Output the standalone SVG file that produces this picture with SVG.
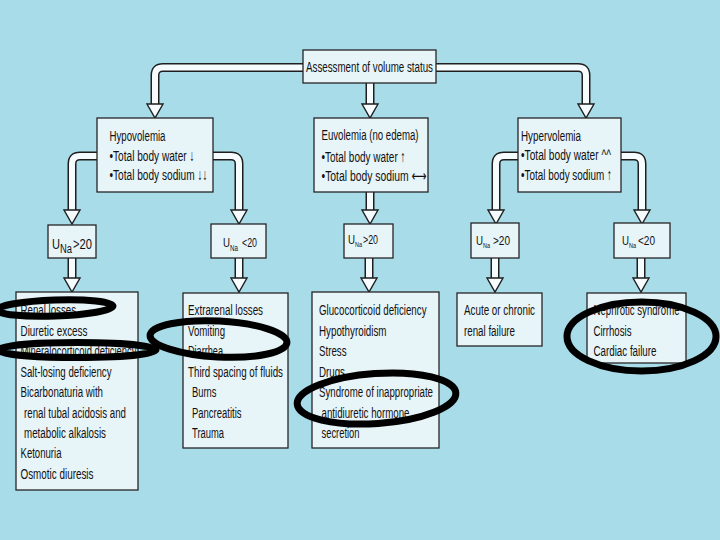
<svg xmlns="http://www.w3.org/2000/svg" xmlns:xlink="http://www.w3.org/1999/xlink" width="720" height="540" viewBox="0 0 720 540">
<style>
.bg{fill:#a8dce9}
.box{fill:#e7f4f8;stroke:#262626;stroke-width:1.3}
.t{font-family:"Liberation Sans","DejaVu Sans",sans-serif;font-size:15.5px;fill:#111}
.s{font-family:"Liberation Sans","DejaVu Sans",sans-serif;fill:#111}
.sh-o{fill:none;stroke:#1e1e1e;stroke-width:9}
.sh-i{fill:none;stroke:#f6fbfd;stroke-width:6}
.hd{fill:#f6fbfd;stroke:#1e1e1e;stroke-width:1.4;stroke-linejoin:miter}
.ov{fill:none;stroke:#000;stroke-width:7}
</style>
<defs>
<path id="head" d="M-8,0 L8,0 L0,14 Z"/>
</defs>
<rect class="bg" x="0" y="0" width="720" height="540"/>

<g id="connectors">
  <g>
    <path class="sh-o" d="M303,67.5 H163 Q155,67.5 155,75.5 V105"/>
    <path class="sh-o" d="M370,83 V105"/>
    <path class="sh-o" d="M436,67.5 H578 Q586,67.5 586,75.5 V105"/>
    <path class="sh-o" d="M97,156 H80 Q72,156 72,164 V211"/>
    <path class="sh-o" d="M213,156 H231 Q239,156 239,164 V211"/>
    <path class="sh-o" d="M370,192 V211"/>
    <path class="sh-o" d="M518,156 H504 Q496,156 496,164 V211"/>
    <path class="sh-o" d="M621,156 H634 Q642,156 642,164 V211"/>
    <path class="sh-o" d="M72,258 V279"/>
    <path class="sh-o" d="M239,258 V279"/>
    <path class="sh-o" d="M369,258 V279"/>
    <path class="sh-o" d="M495,258 V279"/>
    <path class="sh-o" d="M641,258 V279"/>
  </g>
  <g>
    <path class="sh-i" d="M303,67.5 H163 Q155,67.5 155,75.5 V105"/>
    <path class="sh-i" d="M370,83 V105"/>
    <path class="sh-i" d="M436,67.5 H578 Q586,67.5 586,75.5 V105"/>
    <path class="sh-i" d="M97,156 H80 Q72,156 72,164 V211"/>
    <path class="sh-i" d="M213,156 H231 Q239,156 239,164 V211"/>
    <path class="sh-i" d="M370,192 V211"/>
    <path class="sh-i" d="M518,156 H504 Q496,156 496,164 V211"/>
    <path class="sh-i" d="M621,156 H634 Q642,156 642,164 V211"/>
    <path class="sh-i" d="M72,258 V279"/>
    <path class="sh-i" d="M239,258 V279"/>
    <path class="sh-i" d="M369,258 V279"/>
    <path class="sh-i" d="M495,258 V279"/>
    <path class="sh-i" d="M641,258 V279"/>
  </g>
  <g>
    <use class="hd" xlink:href="#head" x="155" y="104"/>
    <use class="hd" xlink:href="#head" x="370" y="104"/>
    <use class="hd" xlink:href="#head" x="586" y="104"/>
    <use class="hd" xlink:href="#head" x="72" y="210"/>
    <use class="hd" xlink:href="#head" x="239" y="210"/>
    <use class="hd" xlink:href="#head" x="370" y="210"/>
    <use class="hd" xlink:href="#head" x="496" y="210"/>
    <use class="hd" xlink:href="#head" x="642" y="210"/>
    <use class="hd" xlink:href="#head" x="72" y="278"/>
    <use class="hd" xlink:href="#head" x="239" y="278"/>
    <use class="hd" xlink:href="#head" x="369" y="278"/>
    <use class="hd" xlink:href="#head" x="495" y="278"/>
    <use class="hd" xlink:href="#head" x="641" y="278"/>
  </g>
</g>

<g id="assessment">
  <rect class="box" x="303" y="50" width="133" height="33"/>
  <text class="t" x="306" y="72" textLength="127" lengthAdjust="spacingAndGlyphs">Assessment of volume status</text>
</g>

<g id="hypovolemia">
  <rect class="box" x="97" y="118" width="116" height="74"/>
  <text class="t" x="109.5" y="141" textLength="56" lengthAdjust="spacingAndGlyphs">Hypovolemia</text>
  <text class="t" x="109.5" y="161" textLength="85" lengthAdjust="spacingAndGlyphs">•Total body water ↓</text>
  <text class="t" x="109.5" y="180" textLength="98" lengthAdjust="spacingAndGlyphs">•Total body sodium ↓↓</text>
</g>

<g id="euvolemia">
  <rect class="box" x="314" y="118" width="114" height="74"/>
  <text class="t" x="321.5" y="140" textLength="97" lengthAdjust="spacingAndGlyphs">Euvolemia (no edema)</text>
  <text class="t" x="321.5" y="162" textLength="84" lengthAdjust="spacingAndGlyphs">•Total body water ↑</text>
  <text class="t" x="321.5" y="181" textLength="105" lengthAdjust="spacingAndGlyphs">•Total body sodium ⟷</text>
</g>

<g id="hypervolemia">
  <rect class="box" x="518" y="118" width="103" height="74"/>
  <text class="t" x="521" y="141" textLength="60" lengthAdjust="spacingAndGlyphs">Hypervolemia</text>
  <text class="t" x="521" y="160" textLength="90" lengthAdjust="spacingAndGlyphs">•Total body water ^^</text>
  <text class="t" x="521" y="180" textLength="91" lengthAdjust="spacingAndGlyphs">•Total body sodium ↑</text>
</g>

<g id="una-hypo-high">
  <rect class="box" x="48" y="225" width="48" height="33"/>
  <text class="s" x="52" y="249" font-size="15" textLength="8" lengthAdjust="spacingAndGlyphs">U</text>
  <text class="s" x="60" y="252.5" font-size="12" textLength="12" lengthAdjust="spacingAndGlyphs">Na</text>
  <text class="s" x="73" y="249" font-size="15" textLength="19" lengthAdjust="spacingAndGlyphs">&gt;20</text>
</g>

<g id="una-hypo-low">
  <rect class="box" x="211" y="224" width="55" height="34"/>
  <text class="s" x="223" y="247" font-size="12" textLength="7" lengthAdjust="spacingAndGlyphs">U</text>
  <text class="s" x="230" y="250.5" font-size="9" textLength="8" lengthAdjust="spacingAndGlyphs">Na</text>
  <text class="s" x="242" y="247" font-size="12" textLength="15" lengthAdjust="spacingAndGlyphs">&lt;20</text>
</g>

<g id="una-euvo">
  <rect class="box" x="344" y="224" width="49" height="34"/>
  <text class="s" x="348" y="244" font-size="12" textLength="7" lengthAdjust="spacingAndGlyphs">U</text>
  <text class="s" x="355" y="247" font-size="8" textLength="7" lengthAdjust="spacingAndGlyphs">Na</text>
  <text class="s" x="363" y="244" font-size="12" textLength="15" lengthAdjust="spacingAndGlyphs">&gt;20</text>
</g>

<g id="una-hyper-high">
  <rect class="box" x="471" y="223" width="48" height="35"/>
  <text class="s" x="476" y="245" font-size="12" textLength="7" lengthAdjust="spacingAndGlyphs">U</text>
  <text class="s" x="483" y="247.5" font-size="8" textLength="7" lengthAdjust="spacingAndGlyphs">Na</text>
  <text class="s" x="493" y="245" font-size="12" textLength="17" lengthAdjust="spacingAndGlyphs">&gt;20</text>
</g>

<g id="una-hyper-low">
  <rect class="box" x="614" y="223" width="56" height="35"/>
  <text class="s" x="622" y="245" font-size="12" textLength="7" lengthAdjust="spacingAndGlyphs">U</text>
  <text class="s" x="629" y="247.5" font-size="8" textLength="7" lengthAdjust="spacingAndGlyphs">Na</text>
  <text class="s" x="638" y="245" font-size="12" textLength="17" lengthAdjust="spacingAndGlyphs">&lt;20</text>
</g>

<g id="renal-causes">
  <rect class="box" x="16" y="292" width="122" height="198"/>
  <text class="t" x="20.5" y="315" textLength="55.5" lengthAdjust="spacingAndGlyphs">Renal losses</text>
  <text class="t" x="20.5" y="335.5" textLength="67" lengthAdjust="spacingAndGlyphs">Diuretic excess</text>
  <text class="t" x="20.5" y="356" textLength="116" lengthAdjust="spacingAndGlyphs">Mineralocorticoid deficiency</text>
  <text class="t" x="20.5" y="376.5" textLength="91" lengthAdjust="spacingAndGlyphs">Salt-losing deficiency</text>
  <text class="t" x="20.5" y="397" textLength="82.5" lengthAdjust="spacingAndGlyphs">Bicarbonaturia with</text>
  <text class="t" x="24" y="417.5" textLength="102" lengthAdjust="spacingAndGlyphs">renal tubal acidosis and</text>
  <text class="t" x="24" y="438" textLength="82" lengthAdjust="spacingAndGlyphs">metabolic alkalosis</text>
  <text class="t" x="20.5" y="458" textLength="41" lengthAdjust="spacingAndGlyphs">Ketonuria</text>
  <text class="t" x="20.5" y="478.5" textLength="73" lengthAdjust="spacingAndGlyphs">Osmotic diuresis</text>
</g>

<g id="extrarenal-causes">
  <rect class="box" x="183" y="293" width="105" height="155"/>
  <text class="t" x="188" y="315" textLength="75" lengthAdjust="spacingAndGlyphs">Extrarenal losses</text>
  <text class="t" x="188" y="335.5" textLength="37" lengthAdjust="spacingAndGlyphs">Vomiting</text>
  <text class="t" x="188" y="356" textLength="35" lengthAdjust="spacingAndGlyphs">Diarrhea</text>
  <text class="t" x="188" y="376.5" textLength="95" lengthAdjust="spacingAndGlyphs">Third spacing of fluids</text>
  <text class="t" x="192" y="397" textLength="24.5" lengthAdjust="spacingAndGlyphs">Burns</text>
  <text class="t" x="192" y="417.5" textLength="49.5" lengthAdjust="spacingAndGlyphs">Pancreatitis</text>
  <text class="t" x="192" y="438" textLength="32" lengthAdjust="spacingAndGlyphs">Trauma</text>
</g>

<g id="euvolemic-causes">
  <rect class="box" x="312" y="292" width="127" height="156"/>
  <text class="t" x="319" y="315" textLength="107.5" lengthAdjust="spacingAndGlyphs">Glucocorticoid deficiency</text>
  <text class="t" x="319" y="335.5" textLength="67.5" lengthAdjust="spacingAndGlyphs">Hypothyroidism</text>
  <text class="t" x="319" y="356" textLength="27.5" lengthAdjust="spacingAndGlyphs">Stress</text>
  <text class="t" x="319" y="376.5" textLength="26" lengthAdjust="spacingAndGlyphs">Drugs</text>
  <text class="t" x="319" y="397" textLength="114" lengthAdjust="spacingAndGlyphs">Syndrome of inappropriate</text>
  <text class="t" x="321.5" y="417.5" textLength="88" lengthAdjust="spacingAndGlyphs">antidiuretic hormone</text>
  <text class="t" x="321.5" y="438" textLength="38" lengthAdjust="spacingAndGlyphs">secretion</text>
</g>

<g id="renal-failure">
  <rect class="box" x="457" y="293" width="85" height="53"/>
  <text class="t" x="464" y="315" textLength="71" lengthAdjust="spacingAndGlyphs">Acute or chronic</text>
  <text class="t" x="464" y="335.5" textLength="51" lengthAdjust="spacingAndGlyphs">renal failure</text>
</g>

<g id="edematous-causes">
  <rect class="box" x="587" y="293" width="99" height="70"/>
  <text class="t" x="593.5" y="315" textLength="86" lengthAdjust="spacingAndGlyphs">Nephrotic syndrome</text>
  <text class="t" x="593.5" y="335.5" textLength="38" lengthAdjust="spacingAndGlyphs">Cirrhosis</text>
  <text class="t" x="593.5" y="356" textLength="63" lengthAdjust="spacingAndGlyphs">Cardiac failure</text>
</g>

<g id="annotations">
  <ellipse class="ov" cx="55" cy="308" rx="58" ry="8" transform="rotate(-2 55 308)"/>
  <ellipse class="ov" cx="77" cy="350" rx="79" ry="7.5"/>
  <ellipse class="ov" cx="218.5" cy="339" rx="68.5" ry="18" transform="rotate(3 218.5 339)"/>
  <ellipse class="ov" cx="376.5" cy="398.5" rx="79.5" ry="25" transform="rotate(-4 376.5 398.5)"/>
  <ellipse class="ov" cx="641.5" cy="336.5" rx="74.5" ry="34.5" stroke-width="8"/>
</g>
</svg>
